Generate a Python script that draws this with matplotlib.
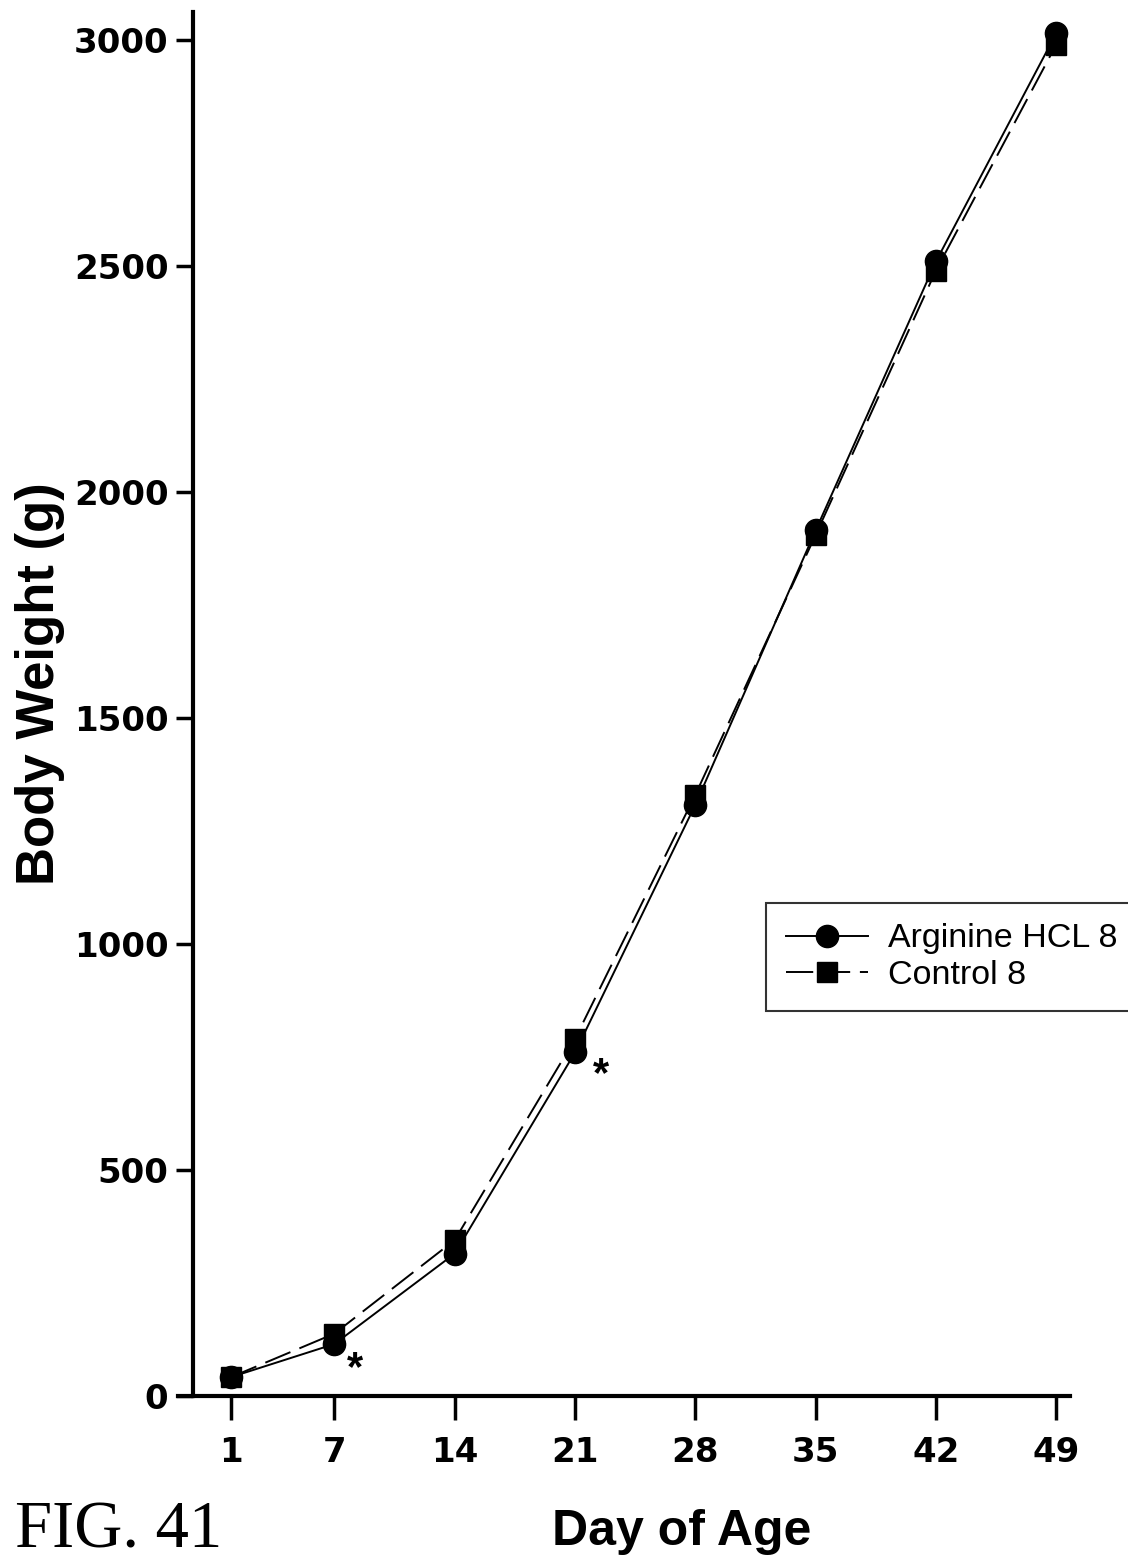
import matplotlib.pyplot as plt

# data
days = [1, 7, 14, 21, 28, 35, 42, 49]
arginine = [42, 115, 315, 760, 1308, 1915, 2510, 3015]
control = [42, 138, 345, 790, 1330, 1905, 2490, 2990]
day_ticks = [1, 7, 14, 21, 28, 35, 42, 49]
weight_ticks = [0, 500, 1000, 1500, 2000, 2500, 3000]
star_days = [8.2, 22.5]
star_weights = [60, 710]

plt.rcParams['font.family'] = ['Liberation Sans', 'DejaVu Sans']

W, H = 1128, 1562
fig = plt.figure(figsize=(W / 100, H / 100), dpi=100)
left, right, bottom, top = 178, 1070, 1396, 12
ax = fig.add_axes([left / W, 1 - bottom / H, (right - left) / W, (bottom - top) / H])

ax.plot(days, arginine, '-', color='black', lw=1.4, marker='o', ms=16,
        label='Arginine HCL 8', zorder=3)
ax.plot(days, control, color='black', lw=1.4, ls=(0, (14, 5)), marker='s', ms=14,
        label='Control 8', zorder=3)

for d, w in zip(star_days, star_weights):
    ax.text(d, w, '*', fontsize=30, fontweight='bold', ha='center', va='center')

ax.set_xlim(-2.1, 49.8)
ax.set_ylim(0, 3062)
ax.spines['left'].set_position(('data', -1.2))
ax.spines['top'].set_visible(False)
ax.spines['right'].set_visible(False)
for s in ('left', 'bottom'):
    ax.spines[s].set_linewidth(3)

ax.set_xticks(day_ticks)
ax.set_yticks(weight_ticks)
ax.tick_params(axis='x', direction='out', length=17, width=2.5, pad=12)
ax.tick_params(axis='y', direction='out', length=12, width=2.5, pad=6)
for lab in ax.get_xticklabels() + ax.get_yticklabels():
    lab.set_fontweight('bold')
    lab.set_fontfamily('DejaVu Sans')
    lab.set_fontsize(24.5)

ax.set_ylabel('Body Weight (g)', fontsize=38, fontweight='bold')
ax.yaxis.set_label_coords(-0.127, 0.515)
ax.set_xlabel('Day of Age', fontsize=36, fontweight='bold')
ax.xaxis.set_label_coords(0.565, -0.082)

leg = ax.legend(loc='upper left', bbox_to_anchor=(766 / W, 1 - 903 / H),
                bbox_transform=fig.transFigure, fontsize=24.5, frameon=True,
                fancybox=False, edgecolor='black', handlelength=2.4,
                borderpad=0.6, labelspacing=0.15, handletextpad=0.6,
                borderaxespad=0)
leg.get_frame().set_linewidth(1.5)

fig.text(15 / W, 1 - 1500 / H, 'FIG. 41', fontsize=48, family='Liberation Serif',
         va='top', ha='left')

fig.savefig('out.png', dpi=100, facecolor='white')
